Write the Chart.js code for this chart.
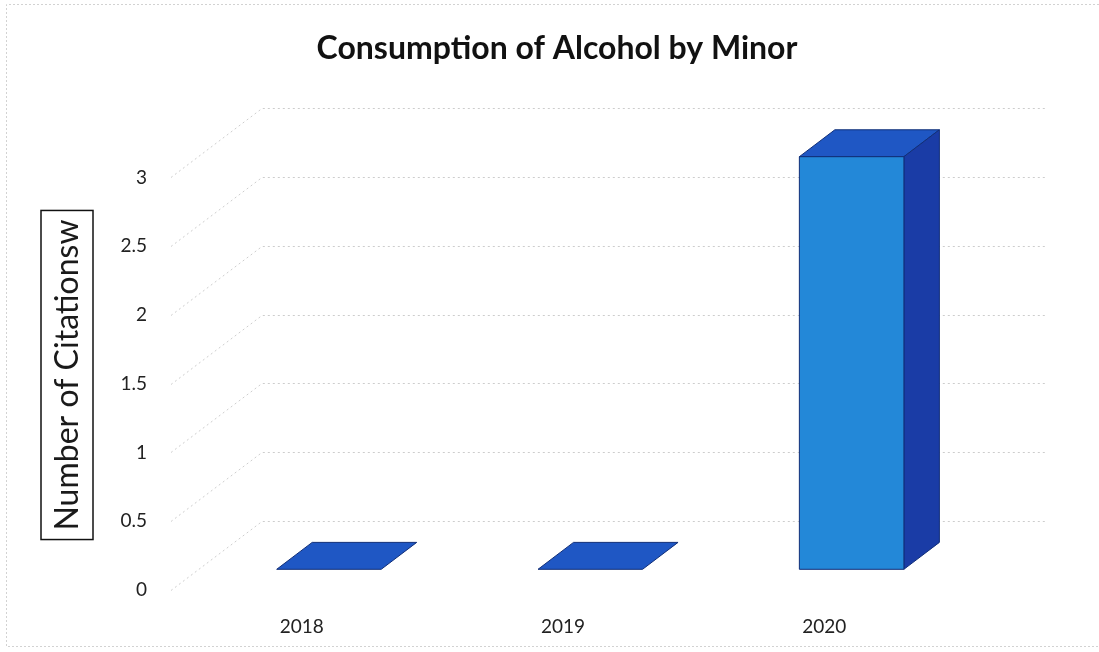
<!DOCTYPE html>
<html>
<head>
<meta charset="utf-8">
<script src="https://cdn.jsdelivr.net/npm/chart.js@4.4.1/dist/chart.umd.min.js"></script>
<style>
  html, body { margin: 0; padding: 0; background: #fff; }
  #wrap { width: 1099px; height: 652px; }
</style>
</head>
<body>
<div id="wrap"><canvas id="chart"></canvas></div>
<script>
const years = ["2018", "2019", "2020"];
const citations = [0, 0, 3];
const yTicks = [0, 0.5, 1, 1.5, 2, 2.5, 3];
const chartTitle = "Consumption of Alcohol by Minor";
const yTitle = "Number of Citationsw";

// floor / back wall depth, and the slice of it the bars occupy
const WALL_DX = 91, WALL_DY = -69;
const BAR_FRONT = 0.3, BAR_BACK = 0.69;

const FONT = "Lato, 'Open Sans', sans-serif";

const poly = (ctx, pts, fill) => {
  ctx.beginPath();
  ctx.moveTo(pts[0][0], pts[0][1]);
  pts.slice(1).forEach((p) => ctx.lineTo(p[0], p[1]));
  ctx.closePath();
  ctx.fillStyle = fill;
  ctx.fill();
  ctx.stroke();
};

const box3d = {
  id: "box3d",
  beforeDraw(chart) {
    const { ctx, width, height } = chart;
    ctx.save();
    ctx.strokeStyle = "#d2d2d2";
    ctx.setLineDash([2, 2]);
    ctx.beginPath();
    ctx.moveTo(width, 4.5);
    ctx.lineTo(6.5, 4.5);
    ctx.lineTo(6.5, height - 5.5);
    ctx.lineTo(width, height - 5.5);
    ctx.stroke();
    ctx.restore();
  },
  beforeDatasetsDraw(chart) {
    const { ctx, chartArea: a, scales: { y } } = chart;
    ctx.save();
    ctx.strokeStyle = "#cdcdcd";
    ctx.lineWidth = 1;
    ctx.setLineDash([2, 3]);
    yTicks.forEach((v) => {
      const py = Math.round(y.getPixelForValue(v)) + 0.5;
      ctx.beginPath();
      ctx.moveTo(a.left, py);
      ctx.lineTo(a.left + WALL_DX, py + WALL_DY);
      ctx.lineTo(a.right + WALL_DX, py + WALL_DY);
      ctx.stroke();
    });
    ctx.restore();
  },
  afterDatasetsDraw(chart) {
    const { ctx } = chart;
    const meta = chart.getDatasetMeta(0);
    const fx = WALL_DX * BAR_FRONT, fy = WALL_DY * BAR_FRONT;
    const dx = WALL_DX * (BAR_BACK - BAR_FRONT), dy = WALL_DY * (BAR_BACK - BAR_FRONT);
    ctx.save();
    ctx.lineJoin = "round";
    ctx.strokeStyle = "#102e78";
    ctx.lineWidth = 1;
    meta.data.forEach((bar) => {
      const l = bar.x - bar.width / 2 + fx, r = bar.x + bar.width / 2 + fx;
      const t = bar.y + fy, b = bar.base + fy;
      poly(ctx, [[l, t], [l + dx, t + dy], [r + dx, t + dy], [r, t]], "#1f57c4");
      if (b - t > 0.5) {
        poly(ctx, [[r, t], [r + dx, t + dy], [r + dx, b + dy], [r, b]], "#1a3ca6");
        poly(ctx, [[l, t], [r, t], [r, b], [l, b]], "#2388d8");
      }
    });
    ctx.restore();
  },
  afterDraw(chart) {
    // boxed vertical axis title
    const { ctx } = chart;
    ctx.save();
    ctx.translate(67, 375);
    ctx.rotate(-Math.PI / 2);
    ctx.font = "32px " + FONT;
    ctx.fillStyle = "#1a1a1a";
    ctx.textAlign = "center";
    ctx.textBaseline = "middle";
    ctx.fillText(yTitle, 0, 1);
    const w = ctx.measureText(yTitle).width;
    ctx.strokeStyle = "#111";
    ctx.lineWidth = 1.5;
    ctx.strokeRect(-w / 2 - 9, -26, w + 18, 52);
    ctx.restore();
  },
};

const ctx = document.getElementById("chart").getContext("2d");
const myChart = new Chart(ctx, {
  type: "bar",
  data: {
    labels: years,
    datasets: [
      {
        data: citations,
        backgroundColor: "rgba(0,0,0,0)",
        borderWidth: 0,
        barPercentage: 0.4,
        categoryPercentage: 1,
      },
    ],
  },
  options: {
    responsive: true,
    maintainAspectRatio: false,
    animation: false,
    layout: { padding: { left: 15, right: 0, top: 0, bottom: 0 } },
    plugins: {
      legend: { display: false },
      tooltip: { enabled: false },
      title: {
        display: true,
        text: chartTitle,
        color: "#111",
        font: { family: FONT, size: 32, weight: "bold" },
        padding: { top: 29, bottom: 110 },
      },
    },
    scales: {
      x: {
        grid: { display: false },
        border: { display: false },
        ticks: { color: "#222", font: { family: FONT, size: 19 }, padding: 17 },
        afterFit: (scale) => { scale.height = 62; },
      },
      y: {
        min: 0,
        max: 3,
        grid: { display: false, drawTicks: false },
        border: { display: false },
        afterFit: (scale) => { scale.width = 156; },
        afterBuildTicks: (scale) => { scale.ticks = yTicks.map((v) => ({ value: v })); },
        ticks: {
          color: "#222",
          font: { family: FONT, size: 19 },
          padding: 24,
          callback: (v) => String(v),
        },
      },
      // empty strip on the right that holds the back wall's overhang
      spare: {
        position: "right",
        grid: { display: false },
        border: { display: false },
        ticks: { display: false },
        afterFit: (scale) => { scale.width = 144; },
      },
    },
  },
  plugins: [box3d],
});
</script>
</body>
</html>
